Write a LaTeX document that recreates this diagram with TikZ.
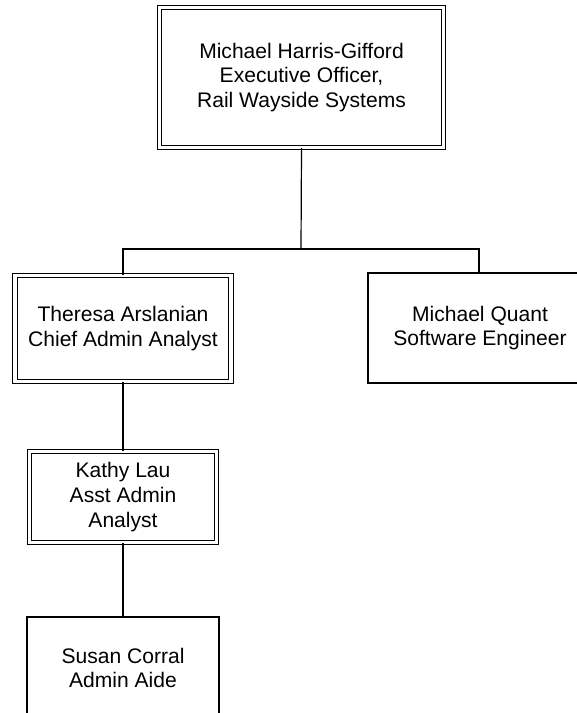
\documentclass[tikz,border=0pt]{standalone}
\usepackage{fontspec}
\setmainfont{Liberation Sans}
\usepackage{tikz}

\begin{document}
\begin{tikzpicture}[x=0.75pt,y=-0.75pt,
  every node/.style={rectangle, align=center, line width=0.9pt, font=\fontsize{15.8}{18.5}\selectfont},
  puesto/.style={draw},
  doble/.style={draw, double, double distance=2.4pt}]

\useasboundingbox (0,0) rectangle (576,713);

% Director (arriba)
\node[doble, minimum width=213pt, minimum height=105pt] (exec) at (301.5,77.5)
  {Michael Harris-Gifford\\Executive Officer,\\Rail Wayside Systems};

% Segundo nivel
\node[doble, minimum width=162pt, minimum height=79.5pt] (arsl) at (123,328.5)
  {Theresa Arslanian\\Chief Admin Analyst};
\node[puesto, minimum width=168pt, minimum height=82.5pt] (quant) at (480,328)
  {Michael Quant\\Software Engineer};

% Tercer y cuarto nivel
\node[doble, minimum width=140pt, minimum height=68pt] (lau) at (123,497)
  {Kathy Lau\\Asst Admin\\Analyst};
\node[puesto, minimum width=144pt, minimum height=76.5pt] (corral) at (123,668)
  {Susan Corral\\Admin Aide};

% Conexiones
\coordinate (bus) at (301,249);
\coordinate (busR) at (479,249);
\draw[line width=0.9pt] (exec.south) -- (bus);
\draw[line width=0.9pt] (bus) -| (arsl.north);
\draw[line width=0.9pt] (bus) -- (busR) -- (busR |- quant.north);
\draw[line width=0.9pt] (arsl.south) -- (lau.north);
\draw[line width=0.9pt] (lau.south) -- (corral.north);

\end{tikzpicture}
\end{document}
